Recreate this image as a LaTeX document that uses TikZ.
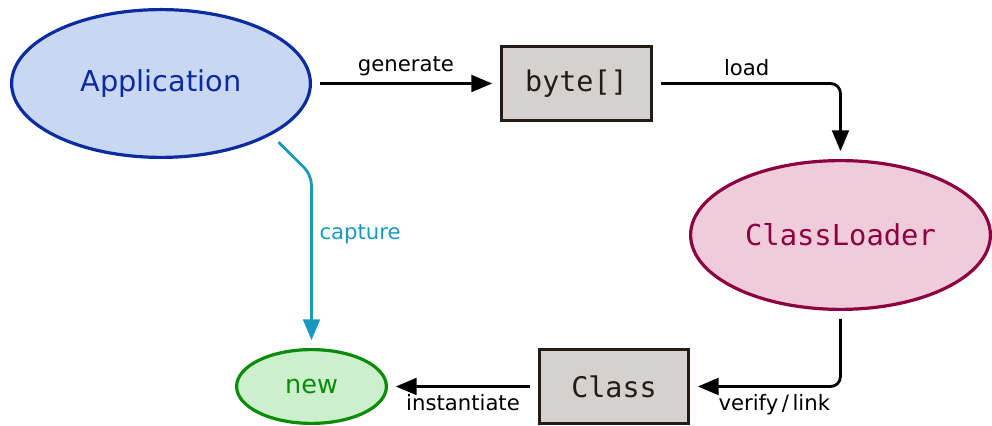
\documentclass[tikz,border=0pt]{standalone}
\usepackage{fontspec}
\setmainfont{DejaVu Sans}
\setmonofont{DejaVu Sans Mono}
\usetikzlibrary{arrows,positioning,shapes.geometric}

\definecolor{appblue}{HTML}{0B2CA0}
\definecolor{appfill}{HTML}{CAD7F3}
\definecolor{loaderred}{HTML}{8C0042}
\definecolor{loaderfill}{HTML}{F0CCDA}
\definecolor{newgreen}{HTML}{0A8C0A}
\definecolor{newfill}{HTML}{CCEFCC}
\definecolor{boxgray}{HTML}{D5D1CE}
\definecolor{boxline}{HTML}{231C16}
\definecolor{capteal}{HTML}{1B98C0}

\begin{document}
\begin{tikzpicture}[>=triangle 45,line width=1.4pt,
  obj node/.style={ellipse,draw,line width=1.6pt,inner sep=0pt},
  data node/.style={rectangle,draw=boxline,fill=boxgray,line width=1.6pt,
    minimum width=74.9pt,minimum height=36.9pt,inner sep=0pt,
    font=\ttfamily\fontsize{14.2}{16}\selectfont,text=boxline},
  flow/.style={->,shorten >=4pt,shorten <=4pt,rounded corners=5pt},
  every node/.append style={font=\fontsize{10.6}{12}\selectfont}]

  \useasboundingbox (0,0) rectangle (496pt,-213pt);

  \node[obj node,draw=appblue,fill=appfill,text=appblue,minimum width=149.4pt,
    minimum height=73.9pt,font=\fontsize{14.4}{16}\selectfont]
    (app) at (80.5pt,-41.75pt) {Application};
  \node[data node] (bytes) [right=94pt of app] {byte[]};
  \node[obj node,draw=loaderred,fill=loaderfill,text=loaderred,
    minimum width=149.9pt,minimum height=74.4pt,
    font=\ttfamily\fontsize{14.4}{16}\selectfont]
    (loader) [below=18.5pt of bytes.south,xshift=132pt] {ClassLoader};
  \node[data node,minimum width=74.4pt] (class)
    [below=18.5pt of loader.south,xshift=-113.25pt] {Class};
  \node[obj node,draw=newgreen,fill=newfill,text=newgreen,minimum width=74.9pt,
    minimum height=36.9pt,font=\fontsize{12.8}{14}\selectfont]
    (new) [left=75pt of class] {new};

  % main chain
  \draw[flow] (app) -- node[above] {generate} (bytes);
  \draw[flow] (bytes) -| node[above,pos=.25] {load} (loader);
  \draw[flow] (loader) |- node[below,pos=.72] {verify\,/\,link} (class);
  \draw[flow] (class) -- node[below] {instantiate} (new);

  % shortcut
  \draw[flow,draw=capteal,shorten <=5pt]
    (app.-25) -- ([yshift=86.5pt]new.north)
    -- node[right,pos=.34,text=capteal] {capture} (new);
\end{tikzpicture}
\end{document}
